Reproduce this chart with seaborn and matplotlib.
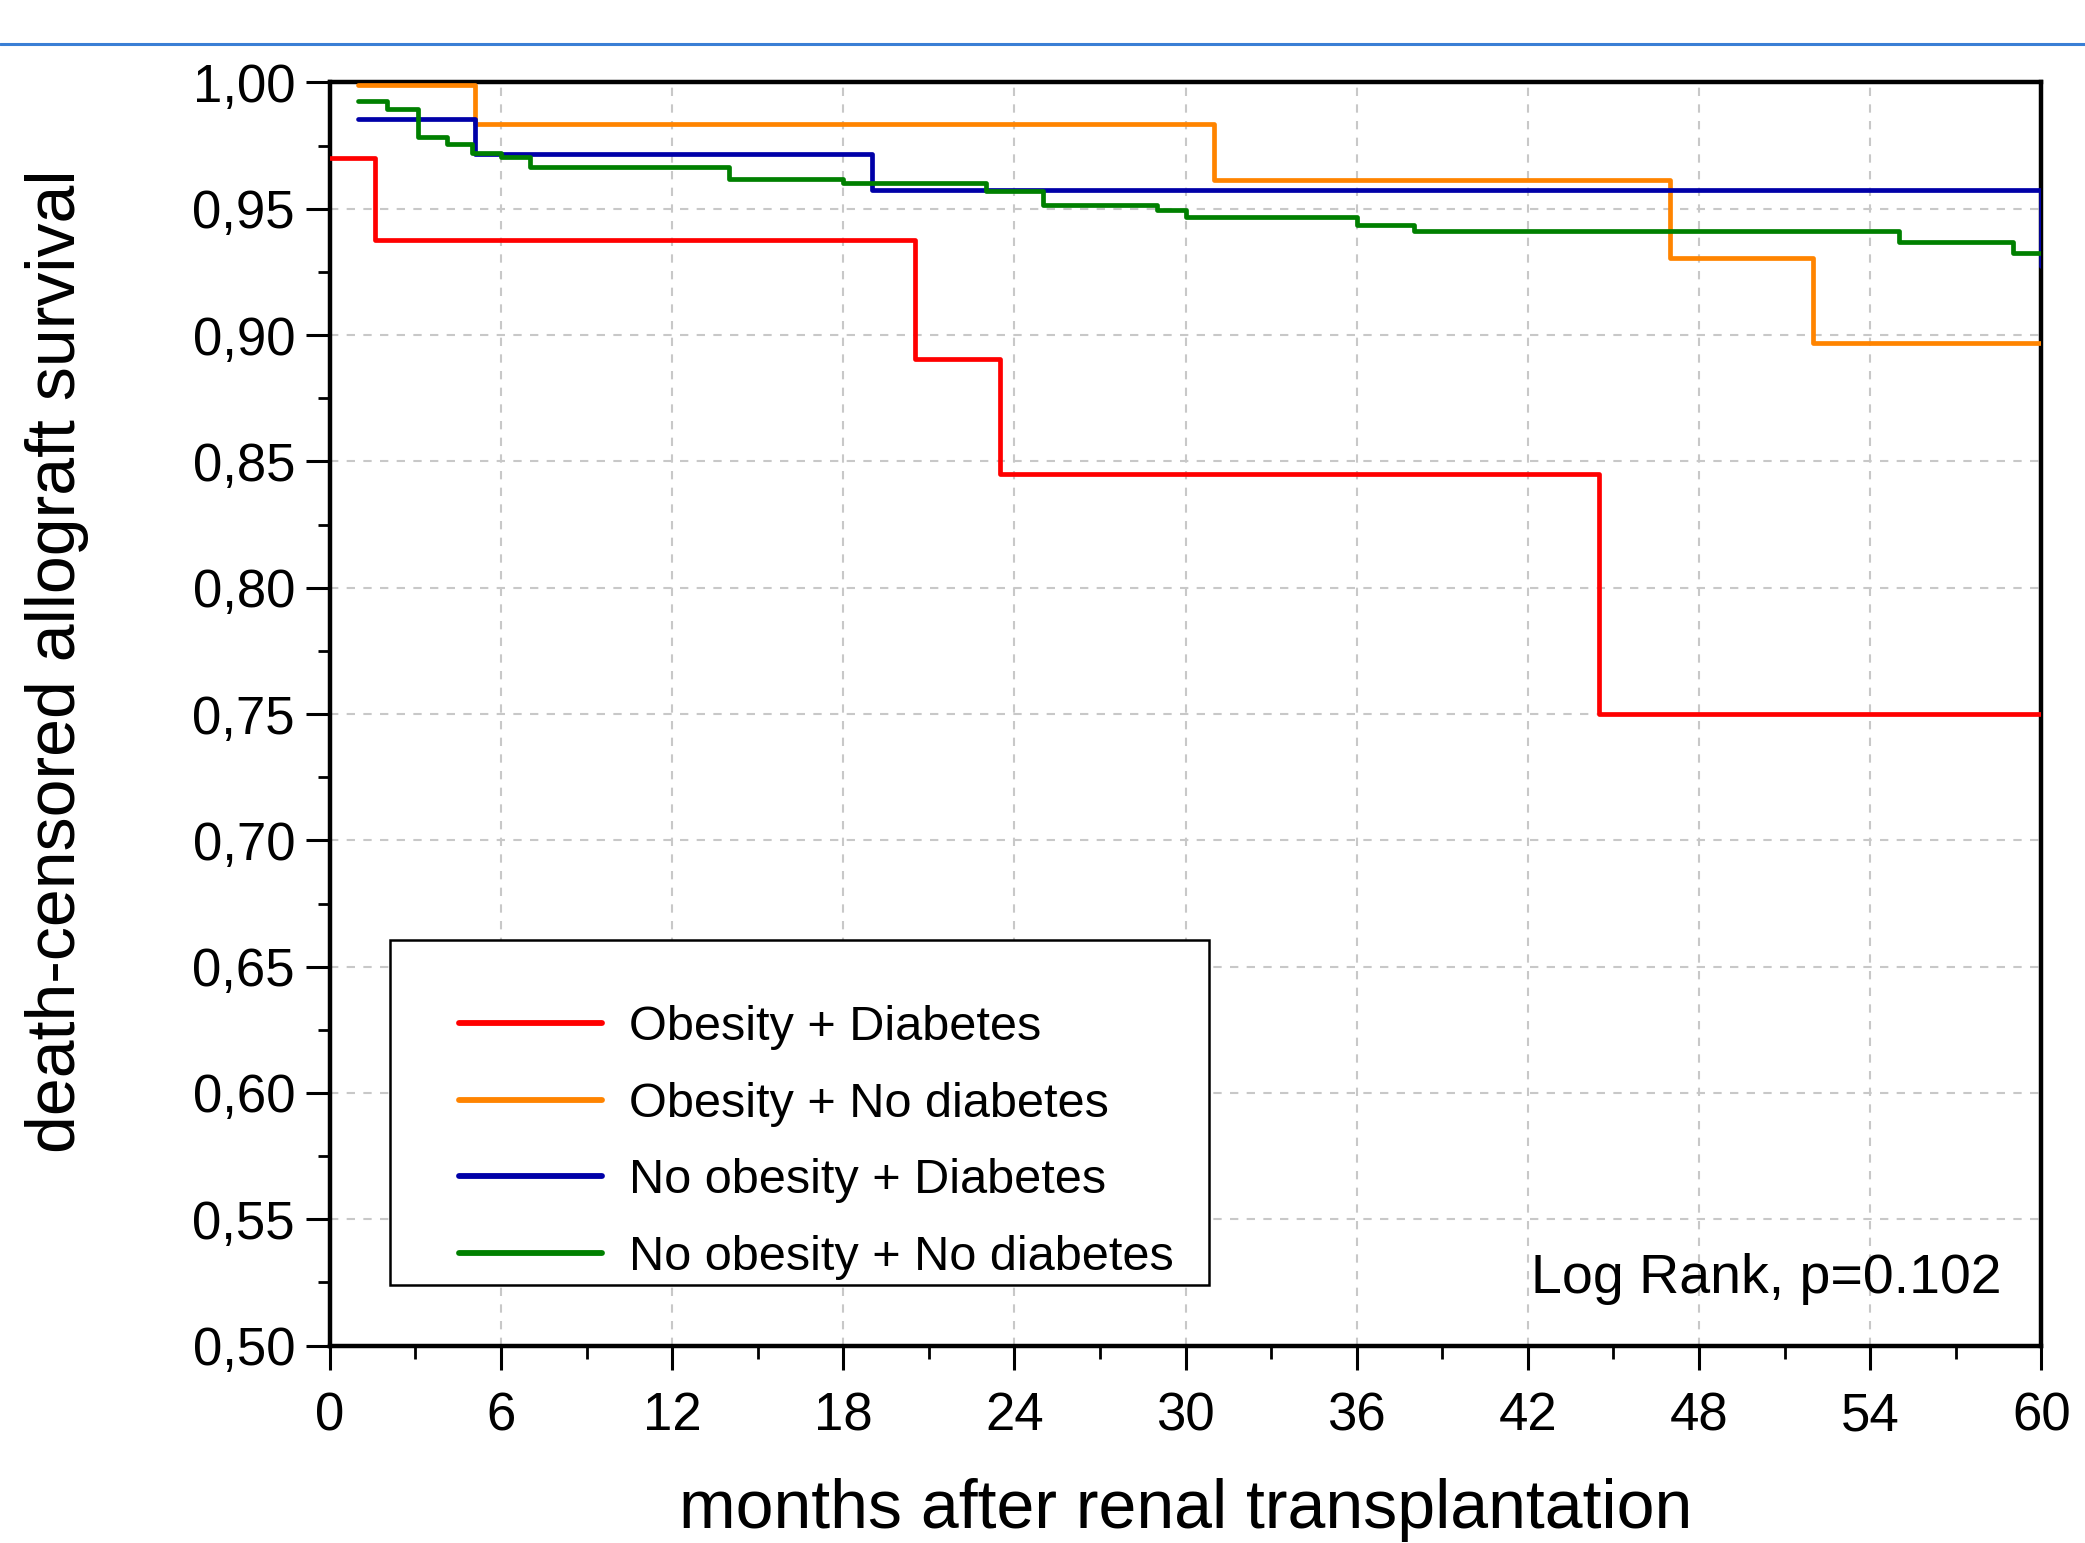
import numpy as np
import pandas as pd
import matplotlib
matplotlib.use("Agg")
import matplotlib.pyplot as plt
import seaborn as sns
from matplotlib.patches import Rectangle
from matplotlib.lines import Line2D
from matplotlib.ticker import FixedLocator, MultipleLocator

# ---------------- data ----------------
groups = ["Obesity + Diabetes", "Obesity + No diabetes",
          "No obesity + Diabetes", "No obesity + No diabetes"]

red_t = [0.0, 1.6, 20.5, 23.5, 44.5, 60.0]
red_s = [0.970, 0.9375, 0.8906, 0.845, 0.750, 0.750]

orange_t = [1.0, 5.1, 31.0, 47.0, 52.0, 60.0]
orange_s = [0.999, 0.9835, 0.9613, 0.9304, 0.8967, 0.8967]

blue_t = [1.0, 5.1, 19.0, 60.0, 60.0]
blue_s = [0.9854, 0.9716, 0.9576, 0.9576, 0.9275]

green_t = [1.0, 2.0, 3.1, 4.1, 5.0, 6.0, 7.0, 14.0, 18.0, 23.0, 25.0,
           29.0, 30.0, 36.0, 38.0, 55.0, 59.0, 60.0]
green_s = [0.9927, 0.9894, 0.9782, 0.9755, 0.9722, 0.9706, 0.9665, 0.9616,
           0.9600, 0.9570, 0.9513, 0.9496, 0.9467, 0.9436, 0.9410, 0.9367,
           0.9325, 0.9325]

x_ticks = [0, 6, 12, 18, 24, 30, 36, 42, 48, 54, 60]
y_ticks = [0.50, 0.55, 0.60, 0.65, 0.70, 0.75, 0.80, 0.85, 0.90, 0.95, 1.00]
y_ticklabels = ["0,50", "0,55", "0,60", "0,65", "0,70", "0,75",
                "0,80", "0,85", "0,90", "0,95", "1,00"]
annotation = "Log Rank, p=0.102"
x_label = "months after renal transplantation"
y_label = "death-censored allograft survival"

colors = {"Obesity + Diabetes": "#ff0000",
          "Obesity + No diabetes": "#ff8400",
          "No obesity + Diabetes": "#0000a8",
          "No obesity + No diabetes": "#008000"}

series = [(groups[0], red_t, red_s), (groups[1], orange_t, orange_s),
          (groups[2], blue_t, blue_s), (groups[3], green_t, green_s)]
frames = []
for name, t, s in series:
    frames.append(pd.DataFrame({"month": t, "survival": s, "group": name}))
df = pd.concat(frames, ignore_index=True)

# ---------------- style ----------------
sns.set_style("ticks")
plt.rcParams["font.family"] = ["Liberation Sans", "DejaVu Sans"]
plt.rcParams["text.color"] = "black"
plt.rcParams["axes.labelcolor"] = "black"

fig = plt.figure(figsize=(20.85, 15.43), dpi=100)
ax = fig.add_axes([0.1582, 0.1279, 0.979 - 0.1582, 0.9466 - 0.1279])

sns.lineplot(data=df, x="month", y="survival", hue="group",
             hue_order=groups, palette=colors, estimator=None, sort=False,
             drawstyle="steps-post", linewidth=3.4, ax=ax, legend=True,
             zorder=3)

ax.set_xlim(0, 60)
ax.set_ylim(0.50, 1.00)
ax.xaxis.set_major_locator(FixedLocator(x_ticks))
ax.set_xticklabels([str(v) for v in x_ticks])
ax.xaxis.set_minor_locator(MultipleLocator(3))
ax.yaxis.set_major_locator(FixedLocator(y_ticks))
ax.set_yticklabels(y_ticklabels)
ax.yaxis.set_minor_locator(MultipleLocator(0.025))

ax.tick_params(axis="both", which="major", direction="out", length=17,
               width=2.2, labelsize=38, colors="black")
ax.tick_params(axis="x", which="major", pad=16)
ax.tick_params(axis="y", which="major", pad=8)
ax.tick_params(axis="both", which="minor", direction="out", length=9,
               width=2.0, colors="black")
for sp in ax.spines.values():
    sp.set_visible(True)
    sp.set_linewidth(3.2)
    sp.set_color("black")

ax.grid(True, which="major", linestyle=(0, (4, 4)), color="#c8c8c8",
        linewidth=1.5, zorder=0)
ax.set_axisbelow(True)

ax.set_xlabel(x_label, fontsize=49, color="black")
ax.set_ylabel(y_label, fontsize=49, color="black")
ax.xaxis.set_label_coords(0.5, -0.105)
ax.yaxis.set_label_coords(-0.141, 0.542)

# legend with a custom frame (extra room at top as in the reference)
handles, labels = ax.get_legend_handles_labels()
if ax.get_legend() is not None:
    ax.get_legend().remove()
frame = Rectangle((0.035, 0.048), 0.514 - 0.035, 0.321 - 0.048,
                  transform=ax.transAxes, facecolor="white",
                  edgecolor="black", linewidth=1.8, zorder=5)
ax.add_patch(frame)
leg = ax.legend(handles, labels, loc="lower left",
                bbox_to_anchor=(0.0755, 0.052), frameon=False, fontsize=35,
                handlelength=2.95, handletextpad=0.55, labelspacing=0.65,
                borderpad=0.0, borderaxespad=0.0)
leg.set_zorder(6)
for h in leg.legend_handles:
    h.set_linewidth(4.2)

ax.text(0.9767, 0.0527, annotation, transform=ax.transAxes, ha="right",
        va="center", fontsize=40, zorder=6)

# thin blue rule across the top of the image
fig.add_artist(Line2D([0, 1], [1 - 44 / 1543, 1 - 44 / 1543],
                      transform=fig.transFigure, color="#3a7fd5",
                      linewidth=2.2))

fig.savefig("out.png", dpi=100)
